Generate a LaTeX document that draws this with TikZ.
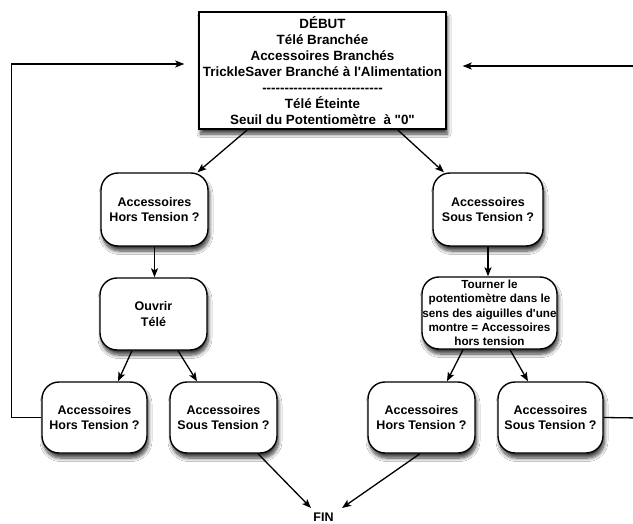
\documentclass[tikz,border=0pt]{standalone}
\usepackage{fontspec}
\newfontfamily\lsans{Liberation Sans}
\usetikzlibrary{arrows.meta,calc,shadows.blur}
\def\hy{-\kern0pt}
\begin{document}
\begin{tikzpicture}[x=1pt,y=1pt,
  shad/.style={blur shadow={shadow xshift=1.5pt, shadow yshift=-5pt, shadow blur steps=8, shadow blur radius=3.5pt, shadow opacity=75}},
  box/.style={draw=black, line width=1.4pt, fill=white, rounded corners=17pt, align=center,
    font=\lsans\bfseries\fontsize{12.5}{15.5}\selectfont, inner sep=1pt,
    minimum width=107pt, minimum height=72pt, shad},
  topbox/.style={draw=black, line width=1.4pt, fill=white, align=center,
    font=\lsans\bfseries\fontsize{13.4}{16}\selectfont, inner sep=1pt,
    minimum width=247pt, minimum height=117pt, shad},
  arr/.style={draw=black, line width=1.3pt, -{Stealth[length=9pt,width=7pt,inset=2pt]}},
  ln/.style={draw=black, line width=1.3pt}]
\useasboundingbox (0,0) rectangle (633,-524);
\fill[white] (0,0) rectangle (633,-524);

\node[topbox] (top) at (322.5,-70.5) {DÉBUT\\Télé Branchée\\Accessoires Branchés\\TrickleSaver Branché à l'Alimentation\\
\hy\hy\hy\hy\hy\hy\hy\hy\hy\hy\hy\hy\hy\hy\hy\hy\hy\hy\hy\hy\hy\hy\hy\hy\hy\hy\hy\\
Télé Éteinte\\Seuil du Potentiomètre\ \ à "0"};

\node[box, minimum height=73pt] (lq1) at (154.5,-209.5) {Accessoires\\Hors Tension ?};
\node[box, minimum width=110pt, minimum height=73pt] (rq1) at (488,-209.5) {Accessoires\\Sous Tension ?};
\node[box] (ouvrir) at (153.5,-314) {Ouvrir\\Télé};
\node[box, minimum width=135pt, inner sep=0pt, font=\lsans\bfseries\fontsize{11.7}{14.2}\selectfont] (tourner) at (489.5,-313)
  {Tourner le\\potentiomètre dans le\\sens des aiguilles d'une\\montre = Accessoires\\hors tension};
\node[box, minimum width=105pt, minimum height=71pt] (bll) at (94.5,-417.5) {Accessoires\\Hors Tension ?};
\node[box, minimum height=71pt] (blr) at (223.5,-417.5) {Accessoires\\Sous Tension ?};
\node[box, minimum height=71pt] (brl) at (421.5,-417.5) {Accessoires\\Hors Tension ?};
\node[box, minimum width=105pt, minimum height=71pt] (brr) at (550.5,-417.5) {Accessoires\\Sous Tension ?};
\node[anchor=north, inner sep=0pt, font=\lsans\bfseries\fontsize{12.5}{15}\selectfont] (fin) at (323.5,-513) {FIN};

\coordinate (rstart) at (640,-66);
\coordinate (rend) at (640,-418);

\draw[arr] ($(top.south)+(-75,0)$) -- ($(lq1.north)+(43,0)$);
\draw[arr] ($(top.south)+(75,0)$) -- ($(rq1.north)+(-44,0)$);
\draw[arr] (lq1.south) -- (lq1.south |- ouvrir.north);
\draw[arr] (rq1.south) -- (rq1.south |- tourner.north);
\draw[arr] ($(ouvrir.south)+(-21.5,0)$) -- ($(bll.north)+(23.5,0)$);
\draw[arr] ($(ouvrir.south)+(24.5,0)$) -- ($(blr.north)+(-26.5,0)$);
\draw[arr] ($(tourner.south)+(-26.5,0)$) -- ($(brl.north)+(25.5,0)$);
\draw[arr] ($(tourner.south)+(20.5,0)$) -- ($(brr.north)+(-22.5,0)$);
\draw[arr] ($(blr.south)+(34.5,0)$) -- ($(fin.north)+(-12.5,5)$);
\draw[arr] ($(brl.south)+(-1.5,0)$) -- ($(fin.north)+(18.5,5)$);
\draw[arr] (bll.west) -- ++(-29.5,0) |- ($(top.west)+(-14,6.5)$);
\draw[ln] (brr.east) -- (rend);
\draw[arr] (rstart) -- ($(top.east)+(16,4.5)$);
\end{tikzpicture}
\end{document}
